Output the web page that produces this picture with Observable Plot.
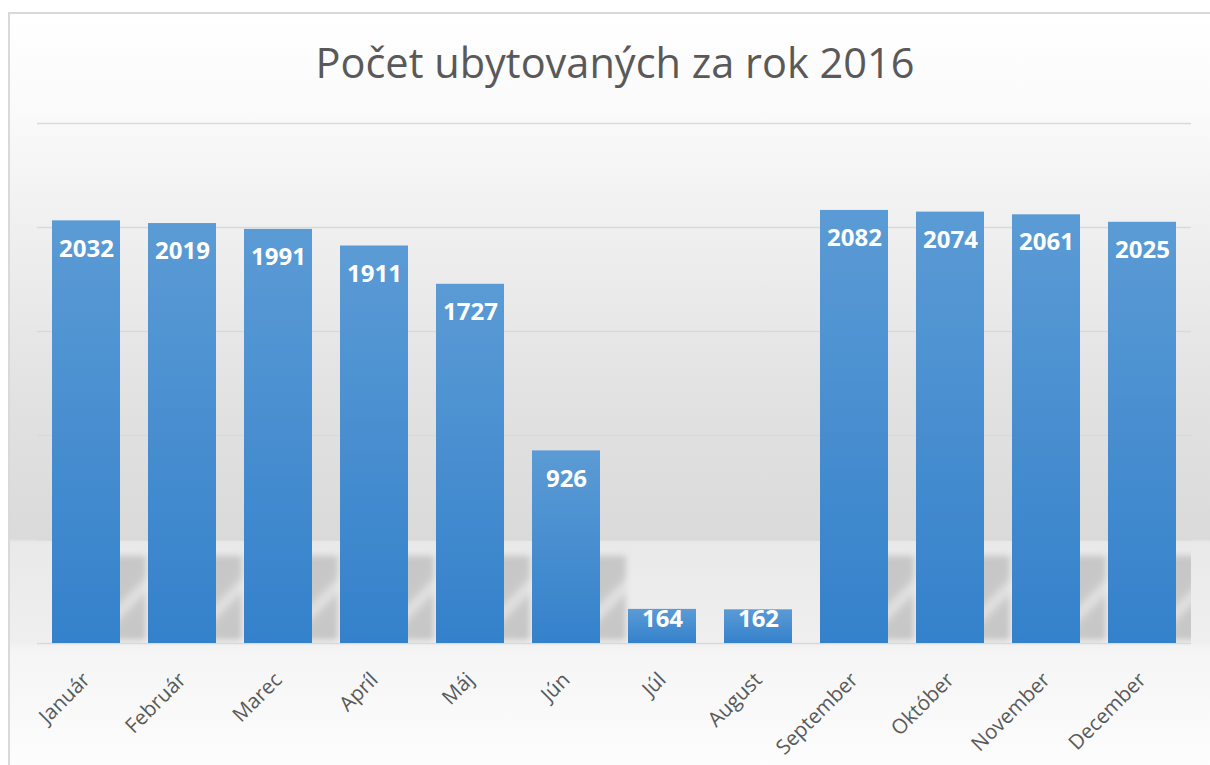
<!DOCTYPE html>
<html><head><meta charset="utf-8">
<script src="https://cdn.jsdelivr.net/npm/d3@7"></script>
<script src="https://cdn.jsdelivr.net/npm/@observablehq/plot@0.6"></script>
<style>
html,body{margin:0;padding:0;width:1210px;height:765px;overflow:hidden;background:#fff}
#bg{position:absolute;left:8px;top:12px;width:1210px;height:760px;border-left:2px solid #d9d9d9;border-top:2px solid #d9d9d9;box-sizing:border-box;
background:linear-gradient(to bottom,#ffffff 0px,#fafafa 100px,#efefef 220px,#e2e2e2 380px,#dadada 525px,#e9e9e9 528px,#efefef 628px,#f5f5f5 636px,#fdfdfd 753px)}
#title{position:absolute;left:0;width:1230px;top:34px;text-align:center;font-family:'Open Sans';font-size:41.5px;color:#595959;white-space:nowrap}
#chart{position:absolute;left:0;top:0}
</style></head>
<body>
<div id="bg"></div>
<div id="title">Počet ubytovaných za rok 2016</div>
<div id="chart"></div>
<script>
const months = ["Január","Február","Marec","Apríl","Máj","Jún","Júl","August","September","Október","November","December"];
const values = [2032,2019,1991,1911,1727,926,164,162,2082,2074,2061,2025];
const yTicks = [0,500,1000,1500,2000,2500];
const data = months.map((m,i)=>({month:m,value:values[i]}));
const shadowCap = 420;

const chart = Plot.plot({
  width:1210, height:765,
  marginLeft:37, marginRight:19, marginTop:123, marginBottom:122,
  style:{background:"transparent", fontFamily:"Open Sans", overflow:"visible"},
  x:{domain:months, paddingInner:0.293, paddingOuter:0.1465, axis:null},
  y:{domain:[0,2500], axis:null},
  marks:[
    Plot.gridY(yTicks,{stroke:"#d9d9d9", strokeOpacity:1, strokeWidth:1.5}),
    Plot.barY(data.filter(d=>d.value>=500),{x:"month", y:d=>Math.min(d.value, shadowCap), fill:"url(#shadowGrad)", insetLeft:8, insetRight:-26, insetBottom:3, clip:true, className:"shadow"}),
    Plot.barY(data,{x:"month", y:"value", fill:"url(#barGrad)"}),
    Plot.text(data.filter(d=>d.value>500),{x:"month", y:"value", text:d=>String(d.value), dy:28, fill:"white", fontWeight:"bold", fontSize:24}),
    Plot.text(data.filter(d=>d.value<=500),{x:"month", y:"value", text:d=>String(d.value), dy:10, fill:"white", fontWeight:"bold", fontSize:24}),
    Plot.text(months,{x:d=>d, y:0, text:d=>d, rotate:-45, textAnchor:"end", lineAnchor:"middle", dy:33, dx:0, fontSize:20.5, fill:"#595959"})
  ]
});
chart.insertAdjacentHTML("afterbegin", `<defs>
<linearGradient id="barGrad" x1="0" y1="0" x2="0" y2="1">
<stop offset="0" stop-color="#5b9bd5"/><stop offset="1" stop-color="#3481cb"/></linearGradient>
<linearGradient id="shadowGrad" gradientUnits="userSpaceOnUse" x1="37" y1="545" x2="85.08" y2="593.08" spreadMethod="repeat">
<stop offset="0" stop-color="#c6c6c6"/><stop offset="0.42" stop-color="#c8c8c8"/>
<stop offset="0.55" stop-color="#e6e6e6"/><stop offset="0.68" stop-color="#c8c8c8"/>
<stop offset="1" stop-color="#c6c6c6"/></linearGradient>
<filter id="soft" x="-10%" y="-20%" width="120%" height="140%"><feGaussianBlur stdDeviation="3"/></filter>
</defs>`);
chart.querySelectorAll(".shadow rect").forEach(el=>el.setAttribute("filter","url(#soft)"));
document.getElementById("chart").appendChild(chart);
</script>
</body></html>
